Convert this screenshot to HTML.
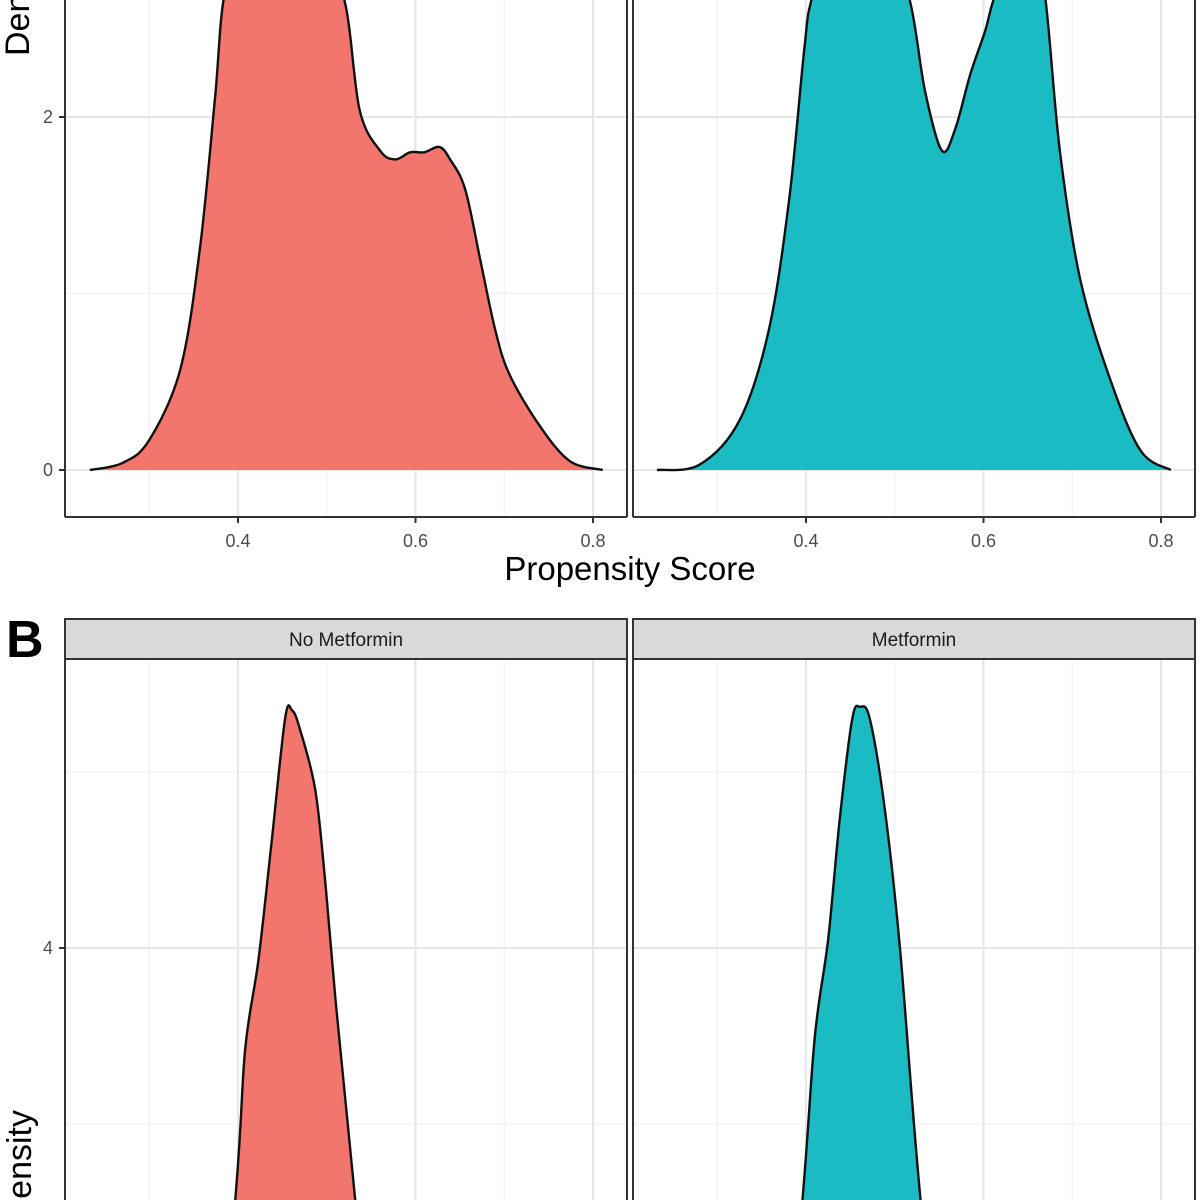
<!DOCTYPE html>
<html><head><meta charset="utf-8"><style>
html,body{margin:0;padding:0;background:#fff;overflow:hidden;width:1200px;height:1200px;}
svg{display:block;font-family:"Liberation Sans",sans-serif;overflow:hidden;}
</style></head><body>
<svg id="fig" width="1200" height="1200" viewBox="0 0 1200 1200" xmlns="http://www.w3.org/2000/svg">
<defs>
<clipPath id="cA1"><rect x="65" y="0" width="562" height="517"/></clipPath>
<clipPath id="cA2"><rect x="633" y="0" width="562" height="517"/></clipPath>
<clipPath id="cB1"><rect x="65" y="659" width="562" height="541"/></clipPath>
<clipPath id="cB2"><rect x="633" y="659" width="562" height="541"/></clipPath>
<clipPath id="cAll"><rect x="0" y="0" width="1200" height="1200"/></clipPath>
</defs>
<g clip-path="url(#cAll)">
<g id="root"></g>
<text x="630" y="580" font-size="33" text-anchor="middle" fill="#000">Propensity Score</text>
<text transform="translate(29,56) rotate(-90)" font-size="34" text-anchor="start" fill="#000">Den</text>
<text transform="translate(31,1110) rotate(-90)" font-size="34" text-anchor="end" fill="#000">ensity</text>
<text x="6" y="657" font-size="52" font-weight="bold" fill="#000">B</text>
</g>
</svg>
<script>
const xTicks=[0.4,0.6,0.8];
const xMinor=[0.3,0.5,0.7];
const aYTicks=[0,2];
const aYMinor=[1,3];
const bYTicks=[4];
const bYMinor=[3,5];
const stripLabels=["No Metformin","Metformin"];
const aNoX=[0.233,0.27,0.3,0.335,0.357,0.374,0.385,0.41,0.45,0.49,0.52,0.537,0.56,0.577,0.594,0.61,0.627,0.639,0.656,0.673,0.69,0.706,0.74,0.774,0.811];
const aNoY=[0,0.04,0.17,0.57,1.25,2.1,2.7,3.0,3.1,3.0,2.66,2.04,1.81,1.76,1.8,1.8,1.83,1.76,1.59,1.19,0.79,0.54,0.25,0.05,0];
const aMetX=[0.232,0.28,0.325,0.358,0.381,0.398,0.406,0.43,0.46,0.49,0.517,0.534,0.553,0.568,0.585,0.602,0.611,0.635,0.655,0.67,0.686,0.709,0.743,0.777,0.811];
const aMetY=[0,0.03,0.28,0.79,1.53,2.38,2.66,3.0,3.1,3.0,2.66,2.15,1.81,1.93,2.24,2.49,2.66,3.0,3.05,2.66,1.81,1.08,0.51,0.11,0];
const bNoX=[0.3,0.36,0.397,0.408,0.423,0.437,0.453,0.461,0.47,0.487,0.498,0.51,0.532,0.57,0.62];
const bNoY=[0,0.5,2.57,3.42,3.93,4.56,5.3,5.35,5.24,4.9,4.39,3.7,2.57,0.5,0];
const bMetX=[0.3,0.36,0.396,0.41,0.425,0.438,0.452,0.461,0.472,0.489,0.506,0.529,0.57,0.62];
const bMetY=[0,0.5,2.57,3.5,4.05,4.73,5.3,5.37,5.3,4.78,3.99,2.57,0.5,0];

const NS="http://www.w3.org/2000/svg";
const root=document.getElementById('root');
function mk(t,a,p){const e=document.createElementNS(NS,t);for(const k in a)e.setAttribute(k,a[k]);(p||root).appendChild(e);return e;}
const pxPerX=887.5;
function sx(off){return v=>-117+off+v*pxPerX;}
function syA(v){return 470-v*176.5;}
function syB(v){return 948-(v-4)*176;}
function smooth(pts){
  let d='M'+pts[0][0].toFixed(1)+','+pts[0][1].toFixed(1);
  for(let i=0;i<pts.length-1;i++){
    const p0=pts[i-1]||pts[i],p1=pts[i],p2=pts[i+1],p3=pts[i+2]||p2;
    const c1=[p1[0]+(p2[0]-p0[0])/6,p1[1]+(p2[1]-p0[1])/6];
    const c2=[p2[0]-(p3[0]-p1[0])/6,p2[1]-(p3[1]-p1[1])/6];
    d+=' C'+c1[0].toFixed(1)+','+c1[1].toFixed(1)+' '+c2[0].toFixed(1)+','+c2[1].toFixed(1)+' '+p2[0].toFixed(1)+','+p2[1].toFixed(1);
  }
  return d;
}
function panel(x0,x1,y0,y1,off,sy,yt,ym,xs,ys,clip,fill,showY,showX,nm,openTop,openBottom){
  const g=mk('g',{'clip-path':'url(#cAll)'});
  
  
  const X=sx(off);
  const gy0=Math.max(y0,0),gy1=Math.min(y1,1200);
  xMinor.forEach(v=>{const l=mk('line',{x1:X(v),x2:X(v),y1:gy0,y2:gy1,stroke:'#f2f2f2','stroke-width':1.2},g);});
  ym.forEach(v=>{const l=mk('line',{x1:x0,x2:x1,y1:sy(v),y2:sy(v),stroke:'#f2f2f2','stroke-width':1.2},g);});
  xTicks.forEach(v=>{const l=mk('line',{x1:X(v),x2:X(v),y1:gy0,y2:gy1,stroke:'#e6e6e6','stroke-width':2},g);});
  yt.forEach(v=>{const l=mk('line',{x1:x0,x2:x1,y1:sy(v),y2:sy(v),stroke:'#e6e6e6','stroke-width':2},g);});
  const pts=xs.map((v,i)=>[X(v),sy(ys[i])]);
  const d=smooth(pts);
  const ar=mk('path',{d:d+' Z',fill:fill,stroke:'none','clip-path':'url(#'+clip+')'},g);
  
  const ln=mk('path',{d:d,fill:'none',stroke:'#111','stroke-width':2.4,'stroke-linejoin':'round','clip-path':'url(#'+clip+')'},g);
  
  // borders as individual lines
  const segs=[[x0,gy0,x0,gy1],[x1,gy0,x1,gy1]];
  if(!openTop)segs.push([x0,y0,x1,y0]);
  if(!openBottom)segs.push([x0,y1,x1,y1]);
  segs.forEach(s=>{const b=mk('line',{x1:s[0],y1:s[1],x2:s[2],y2:s[3],stroke:'#333','stroke-width':2},g);
    });
  if(showY){yt.forEach(v=>{mk('line',{x1:x0-6,x2:x0,y1:sy(v),y2:sy(v),stroke:'#333','stroke-width':2},g);
    const t=mk('text',{x:x0-12,y:sy(v)+6,'font-size':18,'text-anchor':'end',fill:'#4d4d4d'},g);t.textContent=v;
    });}
  if(showX){xTicks.forEach(v=>{mk('line',{x1:X(v),x2:X(v),y1:y1,y2:y1+6,stroke:'#333','stroke-width':2},g);
    const t=mk('text',{x:X(v),y:y1+30,'font-size':18,'text-anchor':'middle',fill:'#4d4d4d'},g);t.textContent=v.toFixed(1);
    });}
}
panel(65,627,0,517,0,syA,aYTicks,aYMinor,aNoX,aNoY,'cA1','#f3766e',true,true,'panel-a-no-metformin',true,false);
panel(633,1195,0,517,568,syA,aYTicks,aYMinor,aMetX,aMetY,'cA2','#1bbbc4',false,true,'panel-a-metformin',true,false);
panel(65,627,659,1200,0,syB,bYTicks,bYMinor,bNoX,bNoY,'cB1','#f3766e',true,false,'panel-b-no-metformin',false,true);
panel(633,1195,659,1200,568,syB,bYTicks,bYMinor,bMetX,bMetY,'cB2','#1bbbc4',false,false,'panel-b-metformin',false,true);
[[65,627],[633,1195]].forEach((p,i)=>{
  const r=mk('rect',{x:p[0],y:619,width:p[1]-p[0],height:40,fill:'#d9d9d9',stroke:'#333','stroke-width':2});
  
  const t=mk('text',{x:(p[0]+p[1])/2,y:646,'font-size':19,'text-anchor':'middle',fill:'#1a1a1a'});t.textContent=stripLabels[i];
  
});
</script>
</body></html>
